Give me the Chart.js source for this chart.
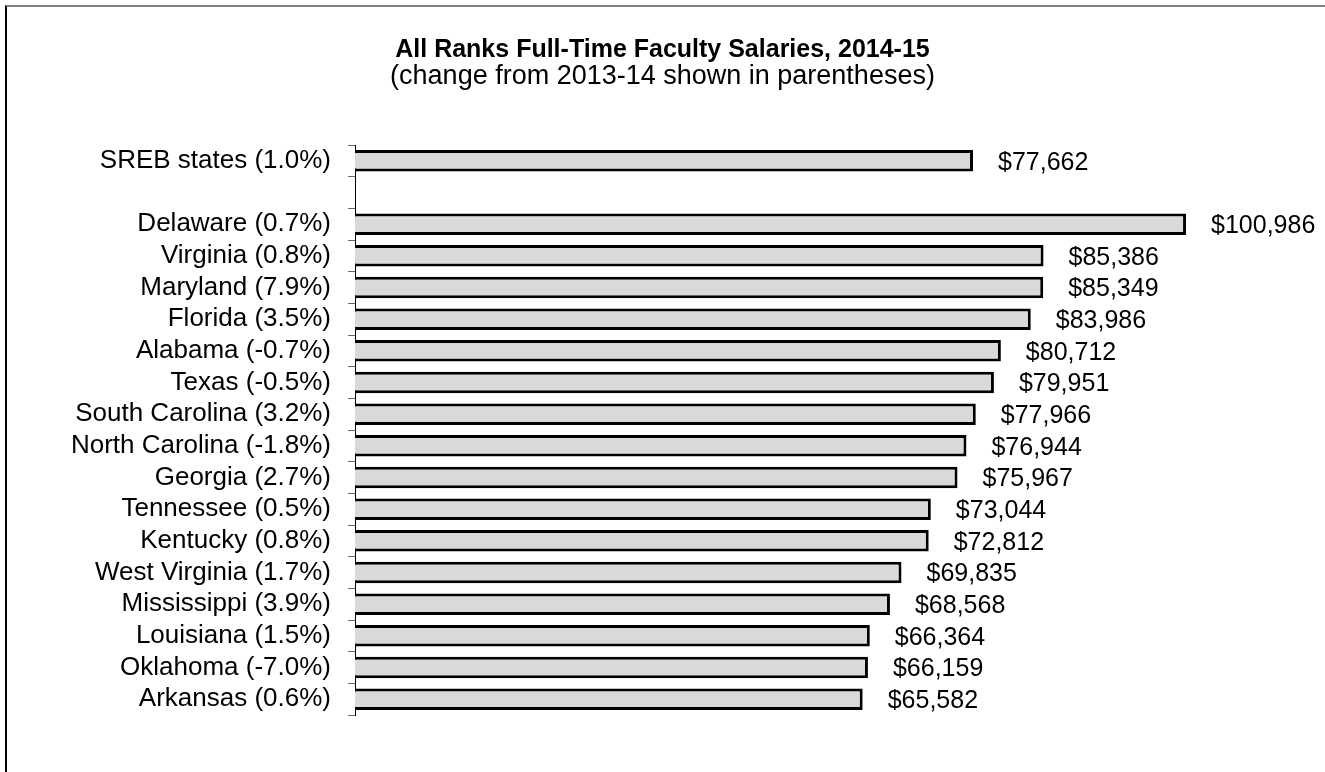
<!DOCTYPE html>
<html>
<head>
<meta charset="utf-8">
<title>All Ranks Full-Time Faculty Salaries, 2014-15</title>
<script src="https://cdn.jsdelivr.net/npm/chart.js@4/dist/chart.umd.min.js"></script>
<style>
    html, body { margin: 0; padding: 0; background: #fff; }
    #wrap { position: relative; width: 1325px; height: 772px; }
    #frame {
        position: absolute; left: 5px; top: 5px; right: 0; bottom: 0;
        border-top: 2px solid #808080;
        border-left: 2px solid #000;
    }
    #chart { position: absolute; left: 0; top: 0; }
</style>
</head>
<body>
<div id="wrap">
    <div id="frame"></div>
    <canvas id="chart" width="1325" height="772"></canvas>
</div>
<script>
// states with the change from 2013-14, blank row separates SREB from the rest
const labels = [
    'SREB states (1.0%)', '',
    'Delaware (0.7%)', 'Virginia (0.8%)', 'Maryland (7.9%)', 'Florida (3.5%)',
    'Alabama (-0.7%)', 'Texas (-0.5%)', 'South Carolina (3.2%)', 'North Carolina (-1.8%)',
    'Georgia (2.7%)', 'Tennessee (0.5%)', 'Kentucky (0.8%)', 'West Virginia (1.7%)',
    'Mississippi (3.9%)', 'Louisiana (1.5%)', 'Oklahoma (-7.0%)', 'Arkansas (0.6%)'
];
const salaries = [
    77662, null,
    100986, 85386, 85349, 83986,
    80712, 79951, 77966, 76944,
    75967, 73044, 72812, 69835,
    68568, 66364, 66159, 65582
];
const xMin = 10000;
const xMax = 116200;

const FONT = "'Liberation Sans', Arial, sans-serif";

// draw "$xx,xxx" to the right of each bar
const valueLabels = {
    id: 'valueLabels',
    afterDatasetsDraw(chart) {
        const ctx = chart.ctx;
        const meta = chart.getDatasetMeta(0);
        ctx.save();
        ctx.font = '25px ' + FONT;
        ctx.fillStyle = '#000';
        ctx.textBaseline = 'middle';
        ctx.textAlign = 'left';
        meta.data.forEach((bar, i) => {
            const v = salaries[i];
            if (v == null) return;
            ctx.fillText('$' + v.toLocaleString('en-US'), bar.x + 25, bar.y + 2);
        });
        ctx.restore();
    }
};

new Chart(document.getElementById('chart'), {
    type: 'bar',
    data: {
        labels: labels,
        datasets: [{
            data: salaries,
            backgroundColor: '#d9d9d9',
            borderColor: '#000',
            borderWidth: 3,
            borderSkipped: false,
            categoryPercentage: 1,
            barPercentage: 0.68
        }]
    },
    options: {
        indexAxis: 'y',
        responsive: false,
        animation: false,
        layout: { padding: { top: 0, right: 0, bottom: 57, left: 0 } },
        plugins: {
            legend: { display: false },
            tooltip: { enabled: false },
            title: {
                display: true,
                text: 'All Ranks Full-Time Faculty Salaries, 2014-15',
                color: '#000',
                font: { family: FONT, size: 25, weight: 'bold', lineHeight: 1 },
                padding: { top: 38, bottom: 0 }
            },
            subtitle: {
                display: true,
                text: '(change from 2013-14 shown in parentheses)',
                color: '#000',
                font: { family: FONT, size: 27, lineHeight: 1 },
                padding: { top: 0, bottom: 55 }
            }
        },
        scales: {
            x: {
                display: false,
                min: xMin,
                max: xMax
            },
            y: {
                afterFit(scale) { scale.width = 355; },
                border: { display: true, color: '#000', width: 1 },
                grid: {
                    offset: true,
                    drawOnChartArea: false,
                    drawTicks: true,
                    tickLength: 7,
                    color: '#666'
                },
                ticks: {
                    autoSkip: false,
                    color: '#000',
                    padding: 17,
                    font: { family: FONT, size: 26 }
                }
            }
        }
    },
    plugins: [valueLabels]
});
</script>
</body>
</html>
